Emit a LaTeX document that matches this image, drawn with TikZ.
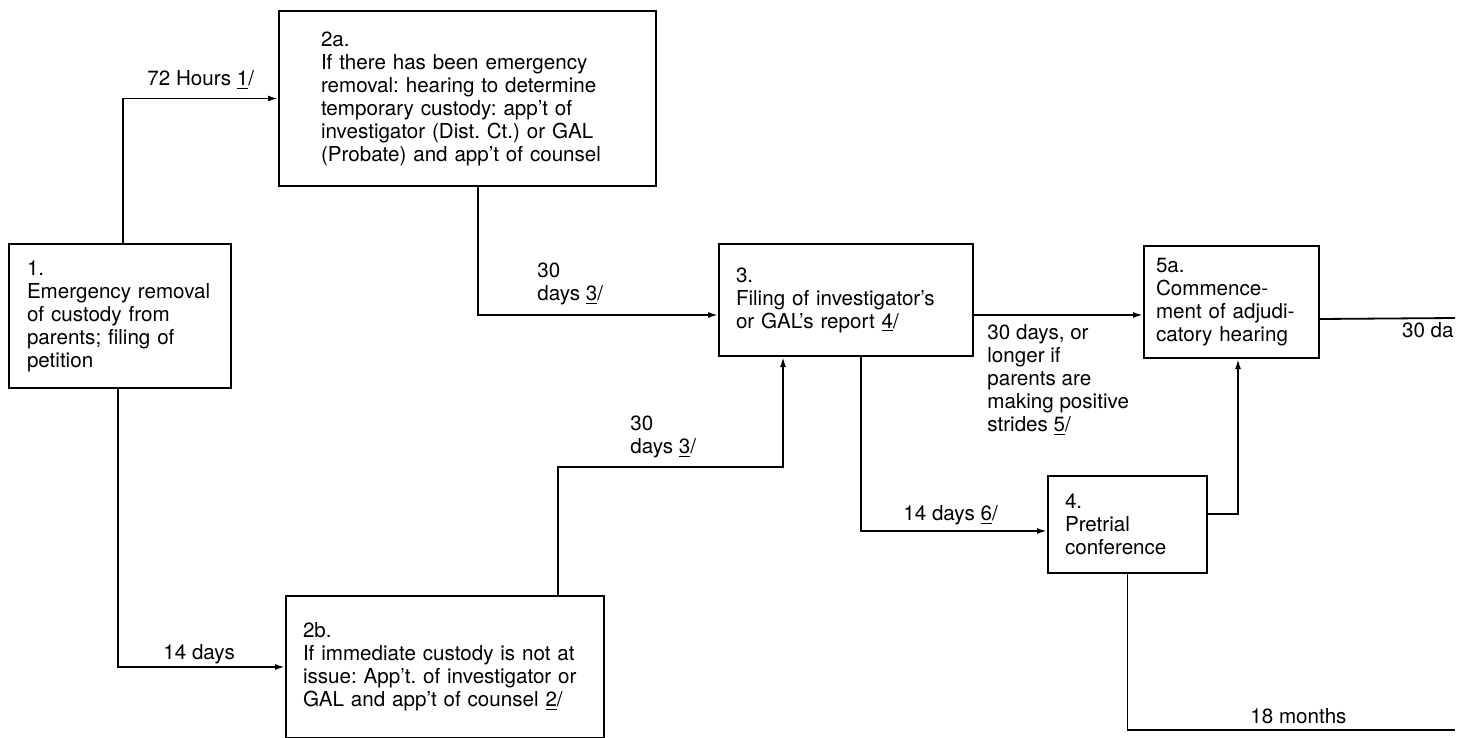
\documentclass[tikz,border=0pt]{standalone}
\usepackage{fontspec}
\setmainfont{TeX Gyre Heros}
\usepackage{tikz}
\usetikzlibrary{calc,positioning,arrows.meta}
\frenchspacing

\begin{document}
\begin{tikzpicture}[x=0.5pt,y=-0.5pt,
  every node/.style={font=\fontsize{10.3}{11.5}\selectfont},
  box/.style={draw,line width=1pt,anchor=north west,align=left,inner ysep=0pt},
  lab/.style={inner sep=0pt,anchor=west,align=left},
  arr/.style={line width=0.9pt,-{Latex[length=5pt,width=3pt]}},
  plain/.style={line width=0.9pt}]
  \useasboundingbox (0,0) rectangle (1472,738);

  \node[box,minimum width=111pt,minimum height=72pt,inner xsep=9pt,text width=93pt] (b1) at (8,243)
    {1.\\Emergency removal\\of custody from\\parents; filing of\\petition};
  \node[box,minimum width=188.5pt,minimum height=87.5pt,inner xsep=21pt,text width=146.5pt] (b2a) at (278,10)
    {2a.\\If there has been emergency\\removal: hearing to determine\\temporary custody: app't of\\investigator (Dist. Ct.) or GAL\\(Probate) and app't of counsel};
  \node[box,minimum width=159pt,minimum height=71pt,inner xsep=8.5pt,text width=142pt] (b2b) at (285,595)
    {2b.\\If immediate custody is not at\\issue: App't. of investigator or\\GAL and app't of counsel \underline{2}/};
  \node[box,minimum width=127pt,minimum height=56pt,inner xsep=8.5pt,text width=110pt] (b3) at (718,243)
    {3.\\Filing of investigator's\\or GAL's report \underline{4}/};
  \node[box,minimum width=87.5pt,minimum height=56pt,inner xsep=6pt,text width=75.5pt] (b5a) at (1143,245)
    {5a.\\Commence-\\ment of adjudi-\\catory hearing};
  \node[box,minimum width=79.5pt,minimum height=48.5pt,inner xsep=8.5pt,text width=62.5pt] (b4) at (1047,475)
    {4.\\Pretrial\\conference};

  \coordinate (e30) at (1455,318);
  \coordinate (e18) at (1455,730);

  \node[lab] (l72) at (147,80) {72 Hours \underline{1}/};
  \node[lab] (l30a) at (537,284) {30\\days \underline{3}/};
  \node[lab] (l30b) at (630,437) {30\\days \underline{3}/};
  \node[lab] (l14) at (163,654) {14 days};
  \node[lab] (l146) at (903,515) {14 days \underline{6}/};
  \node[lab] (l30c) at (987,380) {30 days, or\\longer if\\parents are\\making positive\\strides \underline{5}/};
  \node[lab,anchor=east] (l30da) at (1454,330) {30 da};
  \node[lab] (l18) at (1250,716) {18 months};

  \draw[arr] ([xshift=1.5pt]b1.north) |- (b2a.west);
  \draw[arr] ([xshift=-1pt]b1.south) |- (b2b.west);
  \draw[arr] ([xshift=5.25pt]b2a.south) |- ([yshift=-7.5pt]b3.west);
  \draw[arr] ([xshift=56.5pt]b2b.north) -- ++(0,-128) -| ([xshift=-31.5pt]b3.south);
  \draw[arr] ([yshift=-7.5pt]b3.east) -- ([yshift=-6.5pt]b5a.west);
  \draw[arr] ([xshift=7.5pt]b3.south) |- ([yshift=-3.25pt]b4.west);
  \draw[arr] ([yshift=5.25pt]b4.east) -| ([xshift=3.25pt]b5a.south);
  \draw[plain] ([yshift=-8.5pt]b5a.east) -- (e30);
  \draw[plain] (b4.south) |- (e18);
\end{tikzpicture}
\end{document}
